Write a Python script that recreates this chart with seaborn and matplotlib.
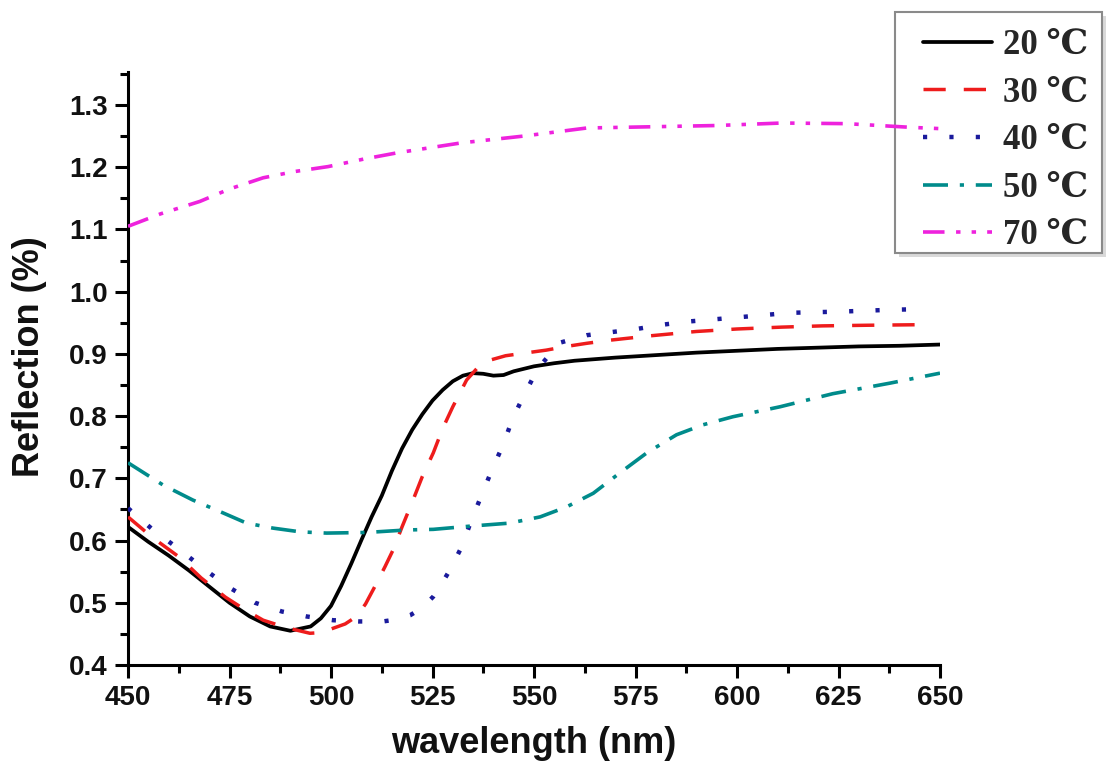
import matplotlib
matplotlib.use("Agg")
import matplotlib.pyplot as plt
from matplotlib.ticker import MultipleLocator
from matplotlib.patches import Rectangle
import seaborn as sns
import numpy as np

# ---------------- data ----------------
labels = ["20 ℃", "30 ℃", "40 ℃", "50 ℃", "70 ℃"]

x20 = [450, 455, 460, 465, 470, 475, 480, 485, 490, 495, 497.5, 500, 502.5, 505, 507.5,
       510, 512.5, 515, 517.5, 520, 522.5, 525, 527.5, 530, 532.5, 535, 537.5, 540,
       542.5, 545, 550, 555, 560, 570, 580, 590, 600, 610, 620, 630, 640, 650]
y20 = [0.622, 0.598, 0.576, 0.552, 0.526, 0.500, 0.478, 0.462, 0.455, 0.462, 0.475, 0.495,
       0.527, 0.563, 0.601, 0.638, 0.672, 0.712, 0.748, 0.778, 0.803, 0.825, 0.842, 0.856,
       0.865, 0.869, 0.868, 0.865, 0.866, 0.872, 0.880, 0.885, 0.889, 0.894, 0.898, 0.902,
       0.905, 0.908, 0.910, 0.912, 0.913, 0.915]

x30 = [450, 456, 462.5, 468, 474, 479, 483.3, 489, 494.8, 497.5, 500.5, 503.5, 506.3, 508.5,
       511.2, 513.3, 515.3, 517.5, 520.2, 522.5, 525.2, 527.5, 530, 533.4, 536, 539.2, 543,
       547.4, 553, 558, 563, 568.7, 578.6, 590, 600, 611, 621, 632, 647]
y30 = [0.638, 0.605, 0.574, 0.540, 0.509, 0.488, 0.472, 0.460, 0.451, 0.452, 0.459, 0.466,
       0.478, 0.498, 0.531, 0.558, 0.585, 0.622, 0.665, 0.703, 0.741, 0.780, 0.815, 0.858,
       0.877, 0.890, 0.897, 0.901, 0.906, 0.912, 0.917, 0.922, 0.929, 0.936, 0.940, 0.943,
       0.945, 0.946, 0.947]

x40 = [450, 456.2, 462.8, 469, 475.1, 481.3, 487.9, 494, 500.5, 506.7, 512.8, 516, 519.5,
       522.5, 525.2, 527.5, 529.3, 532.2, 534.6, 537.1, 539.6, 542.4, 544.8, 547.8, 551,
       556.4, 563, 569.1, 575.3, 581.8, 588, 600.7, 613, 625.8, 638.4, 647]
y40 = [0.652, 0.617, 0.585, 0.553, 0.524, 0.500, 0.486, 0.478, 0.472, 0.470, 0.470, 0.473,
       0.480, 0.492, 0.510, 0.533, 0.553, 0.590, 0.633, 0.673, 0.713, 0.754, 0.797, 0.837,
       0.877, 0.918, 0.930, 0.935, 0.940, 0.947, 0.952, 0.959, 0.966, 0.968, 0.971, 0.972]

x50 = [450, 458.7, 466, 471.8, 479.2, 485.7, 492.4, 498.9, 508.8, 518.6, 525.2, 534, 544,
       551.5, 558, 564.6, 571.2, 577.8, 585.1, 591.6, 599, 610.6, 623.6, 637.7, 650]
y50 = [0.725, 0.689, 0.665, 0.649, 0.628, 0.620, 0.614, 0.612, 0.613, 0.617, 0.618, 0.623,
       0.628, 0.638, 0.654, 0.676, 0.709, 0.741, 0.770, 0.786, 0.799, 0.815, 0.836, 0.853,
       0.869]

x70 = [450, 458, 467.7, 475, 483.3, 491, 499.3, 508, 516.2, 532, 547.4, 563, 579, 595,
       611, 627, 643, 650]
y70 = [1.105, 1.125, 1.145, 1.165, 1.183, 1.193, 1.201, 1.213, 1.223, 1.239, 1.250, 1.263,
       1.265, 1.267, 1.271, 1.270, 1.264, 1.262]

xs = [x20, x30, x40, x50, x70]
ys = [y20, y30, y40, y50, y70]

# ---------------- styles ----------------
colors = ["#000000", "#ee1c1c", "#1a1a9c", "#008b8b", "#ee22dd"]
dash_styles = [None, (0, (16, 13)), (0, (3, 16)), (0, (18, 8.5, 3, 8.5)),
               (0, (15.5, 8.3, 3.2, 8, 3.2, 8))]
widths = [2.7, 2.5, 3.2, 2.6, 2.6]

sns.set_theme(style="ticks")
plt.rcParams["lines.scale_dashes"] = False
plt.rcParams["font.family"] = ["Liberation Sans", "DejaVu Sans"]

W, H = 1116, 774
fig = plt.figure(figsize=(W / 100, H / 100), dpi=100)
ax = fig.add_axes([128 / W, 1 - 665 / H, (940 - 128) / W, (665 - 72) / H])

for i in range(5):
    sns.lineplot(x=xs[i], y=ys[i], ax=ax, color=colors[i], linewidth=widths[i],
                 label=labels[i], sort=False, estimator=None, zorder=3)
    ln = ax.lines[-1]
    if dash_styles[i] is not None:
        ln.set_linestyle(dash_styles[i])

ax.set_xlim(450, 650)
ax.set_ylim(0.4, 1.353)
ax.xaxis.set_major_locator(MultipleLocator(25))
ax.xaxis.set_minor_locator(MultipleLocator(12.5))
ax.yaxis.set_major_locator(MultipleLocator(0.1))
ax.yaxis.set_minor_locator(MultipleLocator(0.05))
ax.yaxis.set_major_formatter(matplotlib.ticker.FormatStrFormatter("%.1f"))

for s in ["top", "right"]:
    ax.spines[s].set_visible(False)
for s in ["left", "bottom"]:
    ax.spines[s].set_linewidth(2.2)
    ax.spines[s].set_color("black")

ax.tick_params(which="major", direction="out", length=9.4, width=2.2, color="black",
               labelsize=20, pad=5)
ax.tick_params(which="minor", direction="out", length=5.8, width=2.2, color="black")
for t in ax.get_xticklabels() + ax.get_yticklabels():
    t.set_fontweight("bold")
    t.set_color("#111111")

ax.set_xlabel("wavelength (nm)", fontsize=26, fontweight="bold", labelpad=11, color="#111111")
ax.set_ylabel("Reflection (%)", fontsize=26, fontweight="bold", color="#111111")
ax.yaxis.set_label_coords(-0.10, 0.52)

# legend frame (drawn beneath the curves) with a light drop shadow
bx0, by0, bx1, by1 = 895, 12, 1102, 253
shadow = Rectangle(((bx0 + 4) / W, 1 - (by1 + 4) / H), (bx1 - bx0) / W, (by1 - by0) / H,
                   transform=fig.transFigure, facecolor="#d9d9d9", edgecolor="none",
                   clip_on=False, zorder=0.8)
frame = Rectangle((bx0 / W, 1 - by1 / H), (bx1 - bx0) / W, (by1 - by0) / H,
                  transform=fig.transFigure, facecolor="white", edgecolor="#8a8a8a",
                  linewidth=1.5, clip_on=False, zorder=0.9)
ax.add_patch(shadow)
ax.add_patch(frame)

leg = ax.legend(loc="upper left", bbox_to_anchor=(923 / W, 1 - 29 / H),
                bbox_transform=fig.transFigure, borderaxespad=0, borderpad=0,
                prop={"family": ["Liberation Serif", "DejaVu Serif"], "weight": "bold", "size": 25},
                handlelength=2.0, handletextpad=0.3, labelspacing=0.42, frameon=False)
leg.set_zorder(1)

fig.savefig("out.png", dpi=100, facecolor="white")
